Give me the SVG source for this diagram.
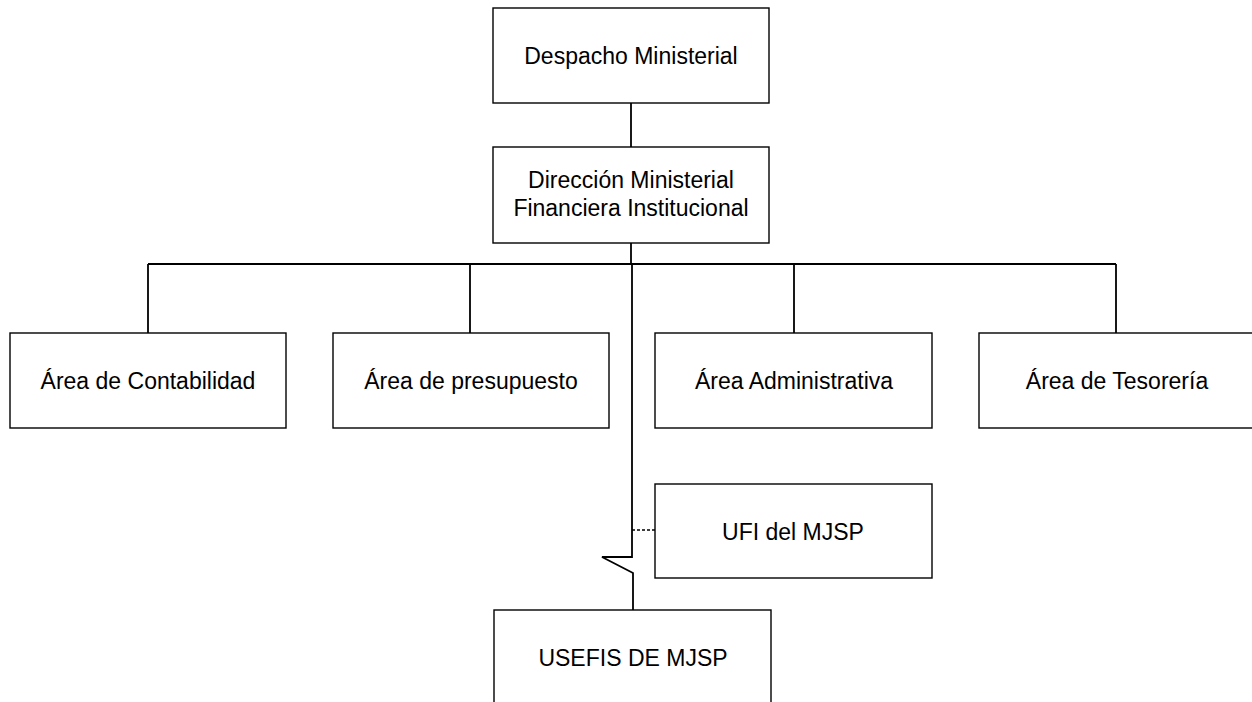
<svg xmlns="http://www.w3.org/2000/svg" width="1252" height="702" viewBox="0 0 1252 702">
<style>
.box{fill:#fff;stroke:#000;stroke-width:1.4}
.t{font-family:"Liberation Sans",Arial,sans-serif;font-size:23px;fill:#000;text-anchor:middle}
.c{fill:none;stroke:#000;stroke-width:1.8}
.d{fill:none;stroke:#000;stroke-width:1.4;stroke-dasharray:3 2}
</style>
<rect width="1252" height="702" fill="#fff"/>
<g id="connectors">
<path class="c" d="M631 103V147"/>
<path class="c" d="M631 243V264"/>
<path class="c" d="M148 264H1116"/>
<path class="c" d="M148 264V333M470 264V333M794 264V333M1116 264V333"/>
<path class="c" d="M632 264V557H602L633 573V610"/>
<path class="d" d="M632 530H655"/>
</g>
<g id="despacho"><rect class="box" x="493" y="8" width="276" height="95"/><text class="t" x="631" y="64">Despacho Ministerial</text></g>
<g id="direccion"><rect class="box" x="493" y="147" width="276" height="96"/><text class="t" x="631" y="188">Dirección Ministerial</text><text class="t" x="631" y="216">Financiera Institucional</text></g>
<g id="contabilidad"><rect class="box" x="10" y="333" width="276" height="95"/><text class="t" x="148" y="389">Área de Contabilidad</text></g>
<g id="presupuesto"><rect class="box" x="333" y="333" width="276" height="95"/><text class="t" x="471" y="389">Área de presupuesto</text></g>
<g id="administrativa"><rect class="box" x="655" y="333" width="277" height="95"/><text class="t" x="794" y="389">Área Administrativa</text></g>
<g id="tesoreria"><rect class="box" x="979" y="333" width="276" height="95"/><text class="t" x="1117" y="389">Área de Tesorería</text></g>
<g id="ufi"><rect class="box" x="655" y="484" width="277" height="94"/><text class="t" x="793" y="540">UFI del MJSP</text></g>
<g id="usefis"><rect class="box" x="494" y="610" width="277" height="95"/><text class="t" x="633" y="666">USEFIS DE MJSP</text></g>
</svg>
